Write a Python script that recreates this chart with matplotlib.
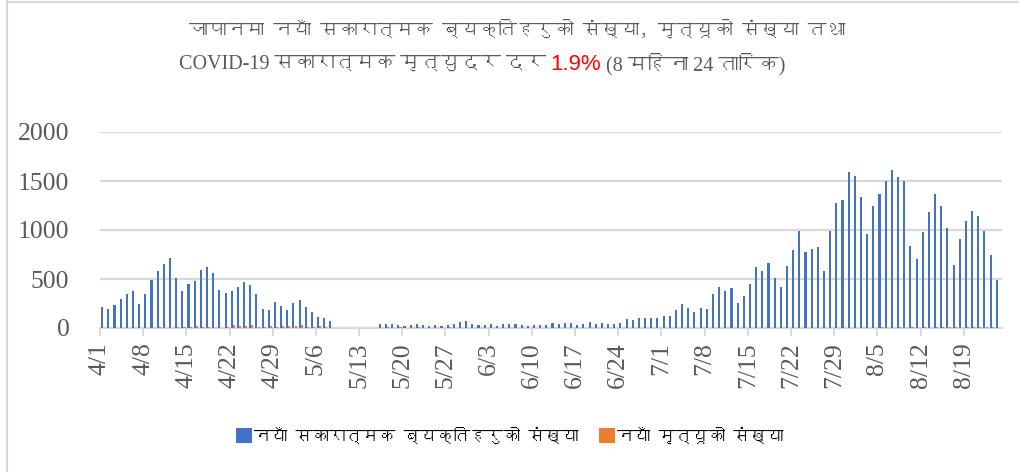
import matplotlib
matplotlib.use("Agg")
import matplotlib.pyplot as plt
import numpy as np
import pandas as pd
from matplotlib import font_manager
from matplotlib.ft2font import FT2Font
from matplotlib.patches import Patch
from matplotlib.lines import Line2D

# ── data: Japan, 1 Apr – 24 Aug ─────────────────────────────────────────────
dates = pd.date_range("2020-04-01", "2020-08-24", freq="D")

new_cases = [
    213, 192, 230, 299, 343, 374, 244, 350, 494, 580, 656, 718, 508, 381, 453,
    477, 587, 625, 563, 384, 360, 374, 419, 467, 440,
    347, 192, 182, 268, 227, 182, 254, 288, 213, 168, 113, 100, 76,
    0, 0, 0, 0, 0, 0, 0,
    41, 38, 38,
    26, 21, 31, 41, 27, 21, 27, 17, 27, 38, 58, 69, 45, 31, 31, 45, 24, 38, 38,
    38, 27, 17, 34, 31, 34, 55, 38, 55, 52, 27, 41, 58, 45, 55, 41, 38, 48, 89,
    79, 100, 107, 107, 103,
    127, 120, 188, 243, 202, 168, 209, 198, 352, 421, 380, 407, 257, 325, 451,
    622, 585, 663, 510, 417, 633, 797, 985, 773, 811, 831, 578,
    985, 1272, 1310, 1590, 1549, 1337, 961, 1245, 1365, 1498, 1611, 1539, 1501,
    838, 701, 975, 1187, 1368, 1245, 1023, 643, 910, 1088, 1197, 1146, 992,
    746, 492,
]

new_deaths = [
    2, 1, 3, 4, 3, 5, 2, 3, 4, 6, 5, 4, 7, 8,
    10, 25, 10, 6, 4, 5, 15, 28, 20, 22, 26, 12, 8, 22, 10, 20, 18, 22, 28, 10,
    6, 18, 8, 5,
    0, 0, 0, 0, 0, 0, 0,
    4, 6, 3, 8, 5, 2, 6, 3, 5, 2, 4, 6, 3, 2, 5, 3, 1, 2, 4, 1, 3, 2, 1, 2, 1,
    0, 2, 1, 1, 3, 0, 1, 2, 1, 0, 2, 1, 1, 0, 2, 1, 0, 1, 2, 1, 0,
    1, 0, 2, 0, 1, 0, 1, 0, 2, 1, 0, 1, 0, 0, 1, 0, 1, 0, 2, 0, 1, 0, 0, 1, 0,
    1, 0,
    0, 1, 2, 0, 1, 3, 2, 4, 6, 5, 3, 8, 4, 6, 5, 10, 4, 8, 6, 7, 12, 5, 9, 13,
    8, 6, 12, 5,
]

yticks = [0, 500, 1000, 1500, 2000]

title_1 = "जापानमा नयाँ सकारात्मक ब्यक्तिहरुको संख्या, मृत्यूको संख्या तथा"
title_2a = "COVID-19 सकारात्मक मृत्युदर दर "
title_2b = "1.9%"
title_2c = " (8 महिना 24 तारिक)"
label_cases = "नयाँ सकारात्मक ब्यक्तिहरुको संख्या"
label_deaths = "नयाँ मृत्यूको संख्या"


def find_family(char):
    """First installed family that has a glyph for char."""
    for f in font_manager.fontManager.ttflist:
        try:
            if FT2Font(f.fname).get_char_index(ord(char)):
                return f.name
        except Exception:
            pass
    return None


deva = find_family("क")
serif_fam = ["Liberation Serif"] + ([deva] if deva else []) + ["DejaVu Sans"]
sans_fam = ([deva] if deva else []) + ["Liberation Sans", "DejaVu Sans"]

BLUE = "#4472C4"
ORANGE = "#ED7D31"
GREY = "#595959"
GRID = "#D9D9D9"

W, H = 1019, 472
fig = plt.figure(figsize=(W / 100, H / 100), dpi=100)
ax = fig.add_axes([100 / W, 1 - 328 / H, 902 / W, 196 / H])

x = np.arange(len(dates))
ax.bar(x - 0.15, new_cases, width=0.34, color=BLUE, zorder=3)
ax.bar(x + 0.2, new_deaths, width=0.34, color=ORANGE, zorder=3)

ax.set_xlim(-0.5, len(dates) - 0.3)
ax.set_ylim(0, 2000)
ax.set_yticks(yticks)
ax.set_yticklabels([str(v) for v in yticks], family=serif_fam, fontsize=18.5,
                   color=GREY)
ax.tick_params(axis="y", length=0, pad=22)
ax.yaxis.grid(True, color=GRID, linewidth=1.6, zorder=0)

tick_pos = x[::7] - 0.5
tick_lab = [f"{d.month}/{d.day}" for d in dates[::7]]
ax.set_xticks(tick_pos)
ax.set_xticklabels(tick_lab, rotation=90, family=serif_fam, fontsize=18.5,
                   color=GREY)
ax.tick_params(axis="x", length=6, width=1.4, color=GRID, pad=4)

for s in ["top", "right", "left"]:
    ax.spines[s].set_visible(False)
ax.spines["bottom"].set_color(GRID)
ax.spines["bottom"].set_linewidth(1.6)
ax.set_axisbelow(True)

# ── title (two lines, red rate in the middle of the second) ──────────────────
fig.text(517 / W, 1 - 28 / H, title_1, ha="center", va="center",
         family=sans_fam, fontsize=13.5, color=GREY)
red = fig.text(576 / W, 1 - 64 / H, title_2b, ha="center", va="center",
               family=["Liberation Sans", "DejaVu Sans"], fontsize=16,
               color="#FF0000")
ax.annotate(title_2a, xy=(0, 0.5), xycoords=red, ha="right", va="center",
            family=serif_fam, fontsize=14.5, color=GREY,
            annotation_clip=False)
ax.annotate(title_2c, xy=(1, 0.5), xycoords=red, ha="left", va="center",
            family=serif_fam, fontsize=14.5, color=GREY,
            annotation_clip=False)

# ── legend ──────────────────────────────────────────────────────────────────
handles = [Patch(facecolor=BLUE), Patch(facecolor=ORANGE)]
fig.legend(handles, [label_cases, label_deaths], loc="center",
           bbox_to_anchor=(0.5, 1 - 435 / H), ncol=2, frameon=False,
           handlelength=1.0, handleheight=1.0, handletextpad=0.1,
           columnspacing=1.2, prop={"family": sans_fam, "size": 12})

# chart border (Excel frame)
fig.add_artist(Line2D([7 / W, 7 / W], [0, 1], color=GRID, linewidth=1.5))
fig.add_artist(Line2D([7 / W, 1], [1 - 2 / H, 1 - 2 / H], color=GRID,
                      linewidth=1.5))

fig.savefig("out.png", dpi=100)
